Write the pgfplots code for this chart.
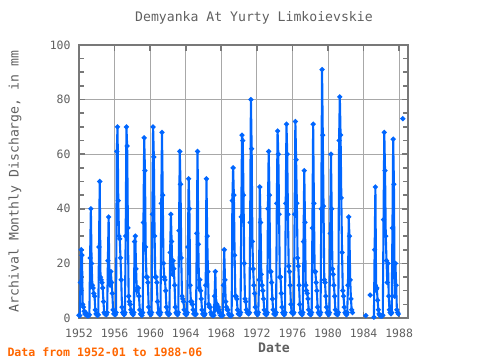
\documentclass[border=0pt]{standalone}
\usepackage{pgfplots}
\pgfplotsset{compat=1.18}
\usepackage{pgfplotstable}
\usepackage{fontspec}
\setmainfont{DejaVu Sans Mono}
\definecolor{txtgray}{HTML}{606060}
\definecolor{axgray}{HTML}{787878}
\definecolor{gridgray}{HTML}{A8A8A8}
\definecolor{lineblue}{HTML}{0066FF}
\definecolor{datared}{HTML}{FF6600}

\pgfplotstableread[row sep=\\, header=false]{
1.0\\ 0.9\\ 13\\ 25\\ 23\\ 5\\ 4\\ 2.5\\ 1.5\\ 2\\ 1.2\\ 0.8\\
1.0\\ 0.8\\ 1.2\\ 22\\ 40\\ 20\\ 12\\ 11\\ 9\\ 8\\ 3\\ 1.5\\
1.2\\ 1.0\\ 1.2\\ 26\\ 50\\ 15\\ 14\\ 13\\ 11\\ 6\\ 2\\ 1.5\\
1.5\\ 1.2\\ 2\\ 21\\ 37\\ 14\\ 12\\ 17\\ 13\\ 9\\ 3\\ 1.5\\
1.5\\ 1.2\\ 2\\ 61\\ 70\\ 43\\ 30\\ 29\\ 22\\ 14\\ 4\\ 2\\
1.5\\ 1.2\\ 2\\ 30\\ 70\\ 63\\ 33\\ 8\\ 6\\ 5\\ 3\\ 2\\
1.5\\ 1.2\\ 2\\ 28\\ 30\\ 18\\ 10\\ 11\\ 11\\ 8\\ 3\\ 1.5\\
1.2\\ 1.0\\ 2\\ 35\\ 66\\ 54\\ 26\\ 15\\ 15\\ 13\\ 4\\ 2\\
1.5\\ 1.2\\ 2\\ 38\\ 70\\ 59\\ 30\\ 15\\ 15\\ 13\\ 6\\ 2\\
1.5\\ 1.2\\ 2\\ 42\\ 68\\ 45\\ 20\\ 15\\ 14\\ 10\\ 4\\ 2\\
1.5\\ 1.2\\ 1.5\\ 24\\ 38\\ 28\\ 16\\ 21\\ 18\\ 12\\ 4\\ 2\\
1.5\\ 1.2\\ 2\\ 32\\ 61\\ 49\\ 22\\ 8\\ 7\\ 6\\ 3\\ 1.5\\
1.5\\ 1.2\\ 2\\ 26\\ 51\\ 40\\ 12\\ 6\\ 6\\ 5\\ 3\\ 1.5\\
1.5\\ 1.2\\ 1.5\\ 31\\ 61\\ 27\\ 11\\ 14\\ 10\\ 7\\ 3\\ 1.5\\
1.3\\ 1.0\\ 1.5\\ 12\\ 51\\ 30\\ 17\\ 5\\ 4\\ 4\\ 2\\ 1.2\\
1.0\\ 0.8\\ 1.0\\ 8\\ 17\\ 4\\ 5\\ 3\\ 4\\ 3\\ 2\\ 1.0\\
1.0\\ 0.8\\ 1.0\\ 12\\ 25\\ 14\\ 6\\ 4\\ 3\\ 3\\ 1.5\\ 1.0\\
1.0\\ 0.8\\ 1.0\\ 43\\ 55\\ 45\\ 23\\ 8\\ 8\\ 7\\ 3\\ 1.5\\
1.5\\ 1.2\\ 2\\ 37\\ 67\\ 65\\ 45\\ 20\\ 7\\ 6\\ 3\\ 2\\
2\\ 1.5\\ 2\\ 35\\ 80\\ 62\\ 28\\ 18\\ 12\\ 9\\ 4\\ 2\\
1.5\\ 1.2\\ 2\\ 14\\ 48\\ 35\\ 16\\ 12\\ 10\\ 7\\ 3\\ 1.5\\
1.5\\ 1.2\\ 2\\ 40\\ 61\\ 45\\ 17\\ 17\\ 13\\ 7\\ 3\\ 1.5\\
1.5\\ 1.2\\ 2\\ 42\\ 68.5\\ 60\\ 38\\ 15\\ 15\\ 9\\ 4\\ 2\\
1.5\\ 1.2\\ 2\\ 42\\ 71\\ 60\\ 38\\ 19\\ 17\\ 12\\ 5\\ 2\\
2\\ 1.5\\ 2\\ 38\\ 72\\ 58\\ 42\\ 22\\ 19\\ 12\\ 5\\ 2\\
1.5\\ 1.2\\ 2\\ 28\\ 54\\ 35\\ 12\\ 10\\ 9\\ 7\\ 3\\ 1.5\\
1.5\\ 1.2\\ 2\\ 33\\ 71\\ 42\\ 17\\ 17\\ 13\\ 10\\ 4\\ 2\\
1.5\\ 1.2\\ 2\\ 40\\ 91\\ 67\\ 41\\ 14\\ 13\\ 8\\ 4\\ 2\\
1.5\\ 1.2\\ 2\\ 31\\ 60\\ 40\\ 18\\ 16\\ 12\\ 8\\ 3\\ 1.5\\
1.5\\ 1.2\\ 2\\ 65\\ 81\\ 67\\ 44\\ 24\\ 10\\ 8\\ 4\\ 2\\
1.5\\ 1.2\\ 2\\ 12\\ 37\\ 30\\ 14\\ 7\\ 3\\ 2\\ nan\\ nan\\
nan\\ nan\\ nan\\ nan\\ nan\\ nan\\ nan\\ nan\\ nan\\ nan\\ nan\\ nan\\
nan\\ nan\\ nan\\ 0.9\\ nan\\ nan\\ nan\\ nan\\ nan\\ 8.4\\ nan\\ nan\\
nan\\ nan\\ 0.3\\ 25\\ 48\\ 10.5\\ 11\\ 6.5\\ 3\\ 1.5\\ 1\\ 0.8\\
0.8\\ 0.7\\ 1\\ 36\\ 68\\ 54\\ 30\\ 21\\ 13\\ 20\\ 8\\ 3\\
2\\ 1.5\\ 2\\ 33\\ 65.5\\ 49\\ 8\\ 20\\ 12\\ 3\\ 2\\ 1.5\\
nan\\ nan\\ nan\\ nan\\ nan\\ 73\\
}\datatable

\begin{document}
\begin{tikzpicture}
\useasboundingbox (-79bp,-42bp) rectangle (401bp,318bp);
\begin{axis}[
  at={(0,0)}, anchor=south west,
  scale only axis, width=329bp, height=273bp,
  xmin=1952, xmax=1989, ymin=0, ymax=100,
  xtick={1952,1956,...,1988}, minor x tick num=3,
  ytick={0,20,...,100}, minor y tick num=3,
  xmajorgrids, xminorgrids, ymajorgrids,
  major grid style={gridgray, line width=0.9bp},
  minor grid style={gridgray, line width=0.9bp},
  axis line style={axgray, line width=2.2bp},
  tick style={axgray, line width=1.6bp},
  major tick length=6bp, minor tick length=5bp,
  tick align=inside,
  /pgf/number format/assume math mode=true,
  tick label style={txtgray, font=\fontsize{11.5}{12}\selectfont},
  xticklabel style={/pgf/number format/1000 sep={}, anchor=base, yshift=-19bp},
  yticklabel style={anchor=east, xshift=-5bp},
  unbounded coords=jump,
  clip=false,
]
\addplot[lineblue, line width=2.1bp, mark=*, mark size=1.3bp, mark options={draw=none, fill=lineblue}]
  table[x expr=1952+\coordindex/12, y index=0] {\datatable};
\end{axis}
\node[txtgray, font=\fontsize{13.2}{14}\selectfont] at (175bp,300bp) {Demyanka At Yurty Limkoievskie};
\node[txtgray, font=\fontsize{13.2}{14}\selectfont, rotate=90] at (-64bp,136.5bp) {Archival Monthly Discharge, in mm};
\node[txtgray, font=\bfseries\fontsize{13.2}{14}\selectfont] at (195bp,-30bp) {Date};
\node[datared, font=\bfseries\fontsize{11.6}{12}\selectfont, anchor=west] at (-75bp,-34bp) {Data from 1952-01 to 1988-06};
\end{tikzpicture}
\end{document}
